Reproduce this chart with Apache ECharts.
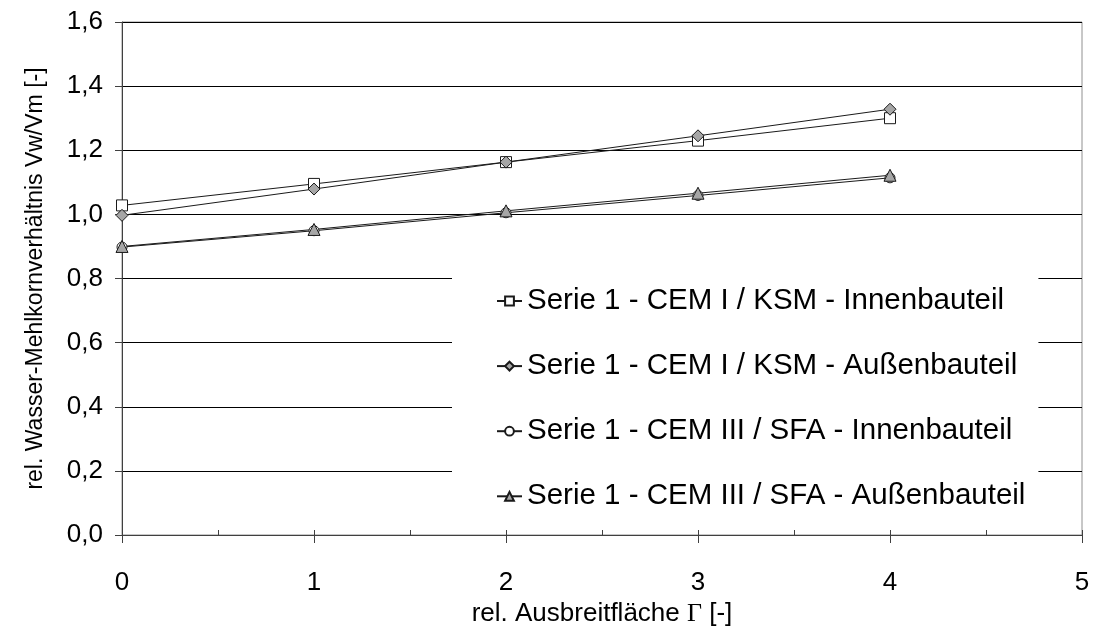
<!DOCTYPE html>
<html>
<head>
<meta charset="utf-8">
<script src="https://cdn.jsdelivr.net/npm/echarts@6/dist/echarts.min.js"></script>
<style>html,body{margin:0;padding:0;background:#fff;}#c{width:1093px;height:626px;}</style>
</head>
<body>
<div id="c"></div>
<script>
const xValues = [0, 1, 2, 3, 4];
const seriesNames = [
  'Serie 1 - CEM I / KSM - Innenbauteil',
  'Serie 1 - CEM I / KSM - Außenbauteil',
  'Serie 1 - CEM III / SFA - Innenbauteil',
  'Serie 1 - CEM III / SFA - Außenbauteil'
];
const cem1Innen = [1.028, 1.095, 1.163, 1.230, 1.300];
const cem1Aussen = [0.997, 1.079, 1.163, 1.245, 1.328];
const cem3Innen = [0.898, 0.949, 1.005, 1.059, 1.114];
const cem3Aussen = [0.900, 0.953, 1.011, 1.066, 1.122];
const yTicks = [0, 0.2, 0.4, 0.6, 0.8, 1.0, 1.2, 1.4, 1.6];

const FONT = 'Liberation Sans, Arial, sans-serif';
function pairs(vals){ return xValues.map((x,i)=>[x, vals[i]]); }
function mk(name, vals, symbol, size, fill){
  return {
    name: name, type: 'line', data: pairs(vals),
    symbol: symbol, symbolSize: size,
    lineStyle: {color: '#1a1a1a', width: 1},
    itemStyle: {color: fill, borderColor: '#1a1a1a', borderWidth: 1},
    emphasis: {disabled: true},
    xAxisIndex: 0, yAxisIndex: 0, z: 10
  };
}

const chart = echarts.init(document.getElementById('c'), null, {renderer: 'canvas'});
chart.setOption({
  animation: false,
  backgroundColor: '#fff',
  grid: {left: 122, right: 11, top: 22, bottom: 91, show: true, borderColor: '#909090', borderWidth: 1,
    backgroundColor: 'transparent', containLabel: false, outerBoundsMode: 'none'},
  legend: {
    orient: 'vertical', left: 452, top: 265,
    padding: [21, 13, 10, 44],
    backgroundColor: '#fff',
    itemWidth: 25, itemHeight: 11, itemGap: 35.1,
    textStyle: {fontFamily: FONT, fontSize: 29.5, lineHeight: 29.5, color: '#000'},
    data: seriesNames,
    z: 5
  },
  xAxis: [{
    type: 'value', min: 0, max: 5, interval: 1,
    name: 'rel. Ausbreitfläche {g|Γ} [-]', nameLocation: 'middle', nameGap: 53,
    nameTextStyle: {fontFamily: FONT, fontSize: 26, color: '#000',
      rich: {g: {fontFamily: 'Liberation Serif, Times New Roman, serif', fontSize: 26, color: '#000'}}},
    axisLine: {show: true, lineStyle: {color: '#404040', width: 1}},
    axisTick: {show: true, length: 8, lineStyle: {color: '#404040'}},
    axisLabel: {fontFamily: FONT, fontSize: 26, color: '#000', margin: 35},
    splitLine: {show: false}
  }, {
    type: 'value', min: 0, max: 5, interval: 0.5, position: 'bottom',
    axisLine: {show: false},
    axisTick: {show: true, inside: true, length: 5, lineStyle: {color: '#404040'}},
    axisLabel: {show: false},
    splitLine: {show: false}
  }],
  yAxis: [{
    type: 'value', min: 0, max: 1.6, interval: 0.2,
    name: 'rel. Wasser-Mehlkornverhältnis Vw/Vm [-]', nameLocation: 'middle', nameGap: 75,
    nameTextStyle: {fontFamily: FONT, fontSize: 23, color: '#000'},
    axisLine: {show: true, lineStyle: {color: '#404040', width: 1}},
    axisTick: {show: true, length: 7, lineStyle: {color: '#404040'}},
    axisLabel: {fontFamily: FONT, fontSize: 26, color: '#000', margin: 19,
      formatter: v => (yTicks.some(t => Math.abs(t - v) < 1e-9) ? v.toFixed(1).replace('.', ',') : '')},
    splitLine: {show: true, lineStyle: {color: '#000', width: 1}}
  }],
  series: [
    mk(seriesNames[0], cem1Innen, 'rect', 11, '#ffffff'),
    mk(seriesNames[1], cem1Aussen, 'diamond', 12, '#a6a6a6'),
    mk(seriesNames[2], cem3Innen, 'circle', 10, '#ffffff'),
    mk(seriesNames[3], cem3Aussen, 'triangle', 12, '#a6a6a6')
  ]
});
</script>
</body>
</html>
